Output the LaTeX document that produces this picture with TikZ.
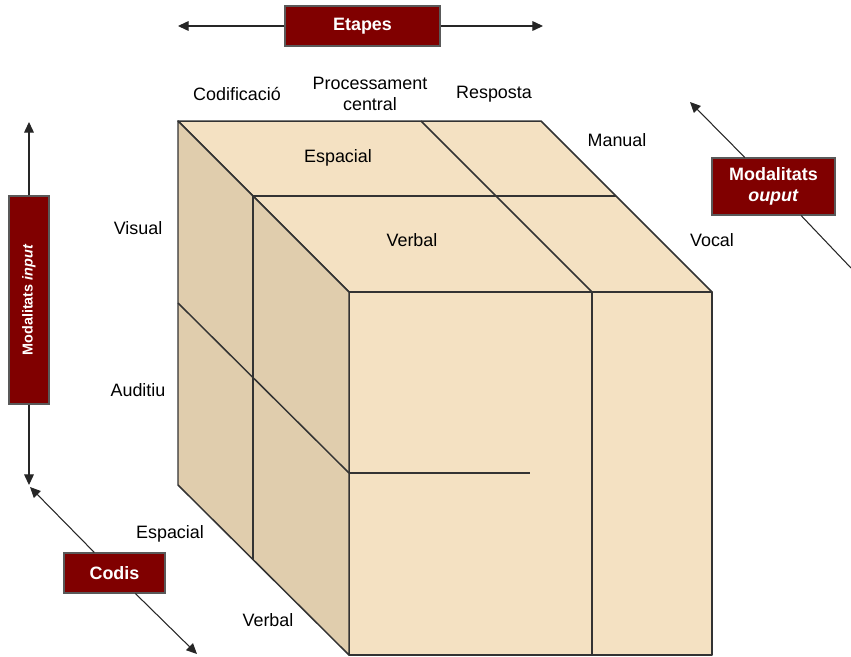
\documentclass[tikz,border=0pt]{standalone}
\usepackage{fontspec}
\setmainfont{Liberation Sans}
\usetikzlibrary{arrows.meta}

\definecolor{cubelight}{HTML}{F4E1C2}
\definecolor{cubeshade}{HTML}{E0CDAD}
\definecolor{tagred}{HTML}{800000}
\definecolor{edgegray}{HTML}{333333}

\tikzset{
    edge/.style={draw=edgegray, line width=0.85pt, line join=round},
    tagbox/.style={draw=black!65, fill=tagred, text=white, line width=0.6pt,
        inner sep=0pt, font=\fontsize{10.2}{12}\selectfont\bfseries, align=center},
    axisarrow/.style={black!85, line width=0.6pt, -{Triangle[length=6pt, width=5.5pt]}},
    lbl/.style={inner sep=0pt, font=\fontsize{10.2}{12}\selectfont, align=center}
}

\begin{document}
\begin{tikzpicture}[x=0.02cm, y=-0.02cm]
    \useasboundingbox (0,0) rectangle (851,656);

    % cube corners
    \coordinate (btl) at (178,121);
    \coordinate (btr) at (541,121);
    \coordinate (ftl) at (349,292);
    \coordinate (ftr) at (712,292);
    \coordinate (fbl) at (349,655);
    \coordinate (fbr) at (712,655);
    \coordinate (bbl) at (178,485);

    % faces
    \filldraw[edge, fill=cubelight] (btl) -- (btr) -- (ftr) -- (ftl) -- cycle;
    \filldraw[edge, fill=cubelight] (ftl) -- (ftr) -- (fbr) -- (fbl) -- cycle;
    \filldraw[edge, fill=cubeshade] (btl) -- (ftl) -- (fbl) -- (bbl) -- cycle;

    % dividers
    \draw[edge] (253,196) -- (616,196);
    \draw[edge] (421,121) -- (592,292);
    \draw[edge] (592,292) -- (592,655);
    \draw[edge] (349,473) -- (530,473);
    \draw[edge] (253,196) -- (253,560);
    \draw[edge] (178,303) -- (349,473);

    % labels on the axes
    \node[lbl] (codif) at (237,94) {Codificació};
    \node[lbl] (proc) at (370,94) {Processament\\central};
    \node[lbl] (resp) at (494,94) {Resposta};
    \node[lbl] (manual) at (617,140) {Manual};
    \node[lbl] (vocal) at (712,240) {Vocal};
    \node[lbl] (espacialtop) at (338,158) {Espacial};
    \node[lbl] (verbaltop) at (412,240) {Verbal};
    \node[lbl] (visual) at (138,228) {Visual};
    \node[lbl] (auditiu) at (138,390) {Auditiu};
    \node[lbl] (espacial) at (170,534) {Espacial};
    \node[lbl] (verbal) at (268,620) {Verbal};

    % tags
    \node[tagbox, minimum width=3.1cm, minimum height=0.8cm] (etapes) at (362.5,26) {Etapes};
    \node[tagbox, rotate=90, minimum width=4.16cm, minimum height=0.8cm,
        font=\fontsize{8.2}{10}\selectfont\bfseries] (input) at (29,300) {Modalitats \textit{input}};
    \node[tagbox, minimum width=2.02cm, minimum height=0.8cm] (codis) at (114.5,573) {Codis};
    \node[tagbox, minimum width=2.46cm, minimum height=1.14cm] (ouput) at (773.5,186.5) {Modalitats\\\textit{ouput}};

    % arrow ends
    \coordinate (etL) at (178,26);
    \coordinate (etR) at (543,26);
    \coordinate (inT) at (29,122);
    \coordinate (inB) at (29,485);
    \coordinate (coT) at (30,487);
    \coordinate (coB) at (197,654);
    \coordinate (ouT) at (690,102);
    \coordinate (ouB) at (851,268);

    \draw[axisarrow] (etapes) -- (etL);
    \draw[axisarrow] (etapes) -- (etR);
    \draw[axisarrow] (input.east) -- (inT);
    \draw[axisarrow] (input.west) -- (inB);
    \draw[axisarrow] (codis) -- (coT);
    \draw[axisarrow] (codis) -- (coB);
    \draw[axisarrow] (ouput) -- (ouT);
    \draw[black!85, line width=0.6pt] (ouput) -- (ouB);
\end{tikzpicture}
\end{document}
